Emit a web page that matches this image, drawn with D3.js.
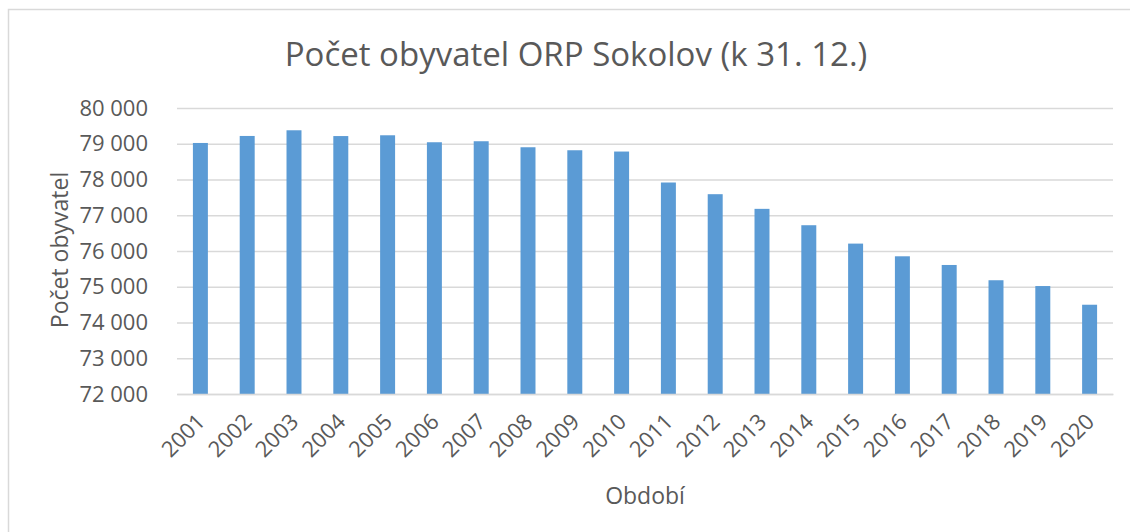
<!DOCTYPE html>
<html><head><meta charset="utf-8">
<script src="https://cdn.jsdelivr.net/npm/d3@7"></script>
<style>body{margin:0;background:#fff}svg{display:block}text{font-family:"Open Sans",sans-serif;fill:#595959}</style>
</head><body>
<svg id="c" width="1130" height="532"></svg>
<script>
const years = ["2001","2002","2003","2004","2005","2006","2007","2008","2009","2010","2011","2012","2013","2014","2015","2016","2017","2018","2019","2020"];
const population = [79022,79218,79377,79215,79237,79042,79070,78902,78818,78782,77916,77589,77179,76721,76207,75852,75609,75182,75020,74497];
const yTicks = [72000,73000,74000,75000,76000,77000,78000,79000,80000];
const title = "Počet obyvatel ORP Sokolov (k 31. 12.)";
const yTitle = "Počet obyvatel";
const xTitle = "Období";

const svg = d3.select("#c");
svg.append("rect").attr("x",8.5).attr("y",9.5).attr("width",1140).attr("height",540)
  .attr("fill","none").attr("stroke","#d9d9d9").attr("stroke-width",1.5);

const m = {l:177, r:1113, t:108, b:394};
const x = d3.scaleBand().domain(years).range([m.l,m.r]).paddingInner(0.68).paddingOuter(0.34);
const y = d3.scaleLinear().domain([72000,80000]).range([m.b,m.t]);
const fmt = v => d3.format(",")(v).replace(/,/g," ");

const yAxis = svg.append("g").attr("transform",`translate(${m.l},0)`)
  .call(d3.axisLeft(y).tickValues(yTicks).tickSize(-(m.r-m.l)).tickPadding(29).tickFormat(fmt));
yAxis.select(".domain").remove();
yAxis.selectAll("line").attr("stroke","#d9d9d9").attr("stroke-width",1.5);
yAxis.selectAll("text").attr("font-size",22).style("font-family","'Open Sans',sans-serif").attr("fill","#595959");

svg.append("g").selectAll("rect").data(population).join("rect")
  .attr("x",(d,i)=>x(years[i])).attr("width",x.bandwidth())
  .attr("y",d=>y(d)).attr("height",d=>y(72000)-y(d)).attr("fill","#5b9bd5");

const xAxis = svg.append("g").attr("transform",`translate(0,${m.b})`)
  .call(d3.axisBottom(x).tickSize(0).tickPadding(0));
xAxis.select(".domain").attr("stroke","#d9d9d9").attr("stroke-width",1.5);
xAxis.selectAll("text").attr("font-size",22).style("font-family","'Open Sans',sans-serif").attr("fill","#595959")
  .attr("text-anchor","end").attr("dy",0).attr("y",0)
  .attr("transform","translate(6,29) rotate(-45)");

svg.append("text").attr("x",576).attr("y",66).attr("text-anchor","middle").attr("font-size",33).text(title);
svg.append("text").attr("transform","translate(68,250) rotate(-90)").attr("text-anchor","middle").attr("font-size",23).text(yTitle);
svg.append("text").attr("x",645).attr("y",504).attr("text-anchor","middle").attr("font-size",23).text(xTitle);
</script>
</body></html>
